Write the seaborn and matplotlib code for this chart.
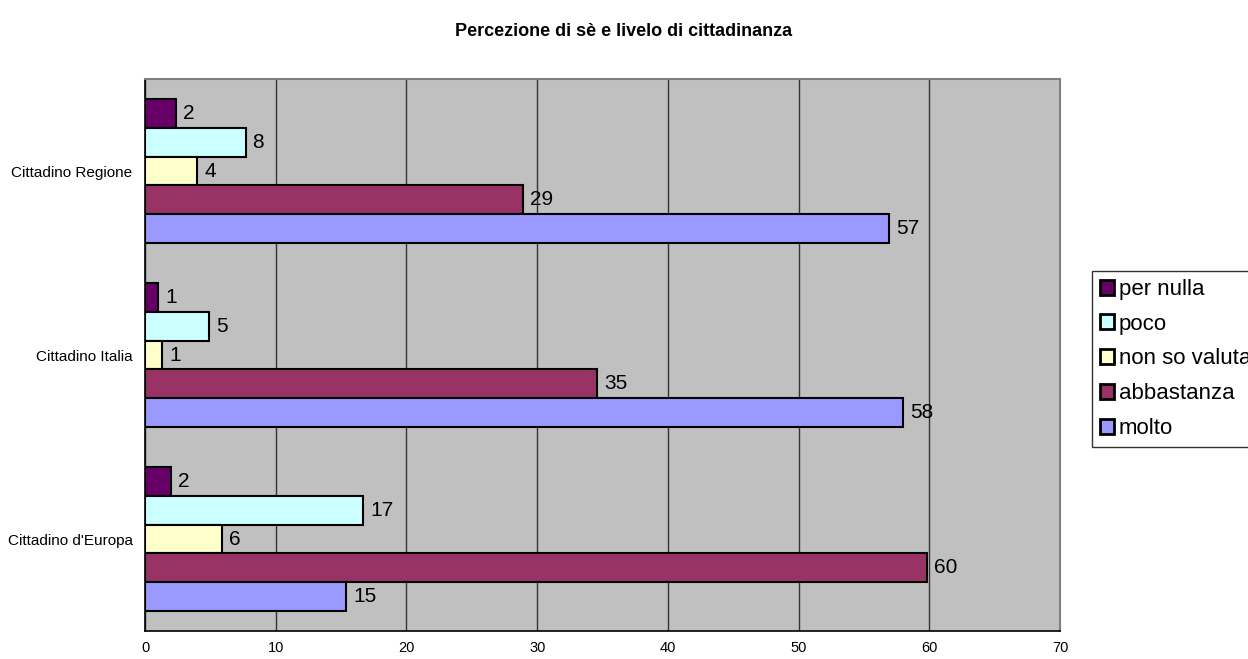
import pandas as pd
import matplotlib.pyplot as plt
import seaborn as sns

# Values (bar lengths, labels shown rounded)
categories = ["Cittadino Regione", "Cittadino Italia", "Cittadino d'Europa"]
levels = ["per nulla", "poco", "non so valuta", "abbastanza", "molto"]
per_nulla = [2.4, 1.0, 2.0]
poco = [7.7, 4.9, 16.7]
non_so = [4.0, 1.3, 5.9]
abbastanza = [28.9, 34.6, 59.8]
molto = [56.9, 58.0, 15.4]
colors = ["#660066", "#CCFFFF", "#FFFFCC", "#993366", "#9999FF"]

series = [per_nulla, poco, non_so, abbastanza, molto]
rows = []
for lev, vals in zip(levels, series):
    for cat, v in zip(categories, vals):
        rows.append({"categoria": cat, "livello": lev, "valore": v})
df = pd.DataFrame(rows)

sns.set_style("white")
plt.rcParams["font.family"] = ["Liberation Sans", "DejaVu Sans"]
plt.rcParams["text.color"] = "black"
plt.rcParams["xtick.color"] = "black"
plt.rcParams["ytick.color"] = "black"

fig = plt.figure(figsize=(12.48, 6.59), dpi=100)
ax = fig.add_axes([0.1162, 0.0425, 0.7332, 0.8375])
ax.set_facecolor("#C0C0C0")

sns.barplot(data=df, y="categoria", x="valore", hue="livello",
            order=categories, hue_order=levels, palette=colors,
            orient="h", errorbar=None, width=0.78,
            edgecolor="black", linewidth=1.5, saturation=1, ax=ax)

for c in ax.containers:
    ax.bar_label(c, fmt="%.0f", padding=5, fontsize=15, color="black")

ax.set_xlim(0, 70)
ax.set_xticks(range(0, 71, 10))
ax.set_ylim(2.5, -0.5)
ax.xaxis.grid(True, color="#333333", linewidth=1)
ax.set_axisbelow(True)
ax.set_xlabel("")
ax.set_ylabel("")
ax.tick_params(axis="x", labelsize=10.5, length=5, width=1, color="black",
               labelcolor="black", pad=2)
ax.tick_params(axis="y", which="major", labelsize=11, length=0, pad=9,
               labelcolor="black")
ax.set_yticks([-0.5, 0.5, 1.5, 2.5], minor=True)
ax.tick_params(axis="y", which="minor", length=5, width=1, color="black")
for s in ["left", "bottom"]:
    ax.spines[s].set_color("black")
    ax.spines[s].set_linewidth(1.2)
for s in ["top", "right"]:
    ax.spines[s].set_color("#808080")
    ax.spines[s].set_linewidth(1.5)

fig.suptitle("Percezione di sè e livelo di cittadinanza", fontsize=13,
             fontweight="bold", color="black", x=0.5, y=0.965)

leg = ax.legend(loc="upper left", bbox_to_anchor=(1.035, 0.652),
                fontsize=16, frameon=True, fancybox=False, edgecolor="black",
                handlelength=0.65, handleheight=0.65, handletextpad=0.2,
                labelspacing=0.62, borderpad=0.35, borderaxespad=0,
                labelcolor="black")
leg.get_frame().set_linewidth(1)
for h in leg.legend_handles:
    h.set_edgecolor("black")
    h.set_linewidth(2)

plt.savefig("out.png", dpi=100)
